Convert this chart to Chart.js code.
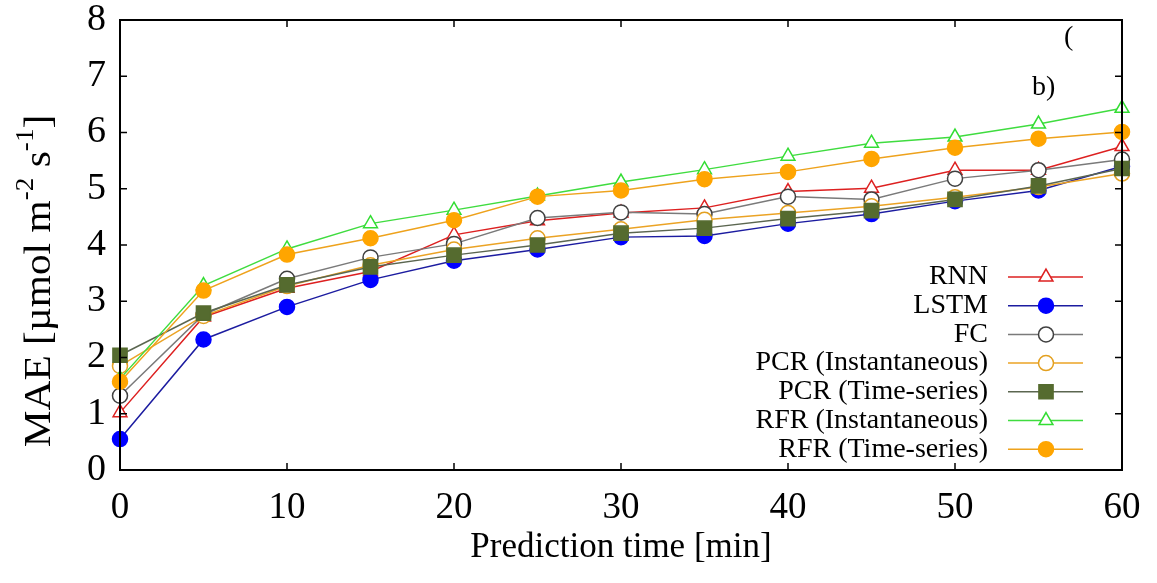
<!DOCTYPE html>
<html lang="en">
<head>
<meta charset="UTF-8">
<title>MAE vs prediction time</title>
<script src="https://cdn.jsdelivr.net/npm/chart.js"></script>
<style>
    html, body { margin: 0; padding: 0; background: #fff; }
    #wrap { width: 1157px; height: 583px; }
</style>
</head>
<body>
<div id="wrap"><canvas id="grafico"></canvas></div>

<script>
    // data
    const times = [0, 5, 10, 15, 20, 25, 30, 35, 40, 45, 50, 55, 60];
    const rnn     = [1.02, 2.72, 3.23, 3.53, 4.18, 4.43, 4.57, 4.66, 4.95, 5.01, 5.33, 5.33, 5.75];
    const lstm    = [0.55, 2.32, 2.90, 3.38, 3.72, 3.92, 4.14, 4.16, 4.38, 4.55, 4.78, 4.97, 5.40];
    const fc      = [1.32, 2.76, 3.40, 3.78, 4.02, 4.48, 4.58, 4.55, 4.86, 4.81, 5.18, 5.33, 5.52];
    const pcrInst = [1.85, 2.74, 3.27, 3.64, 3.92, 4.12, 4.28, 4.45, 4.57, 4.69, 4.85, 5.03, 5.27];
    const pcrTs   = [2.04, 2.79, 3.29, 3.61, 3.82, 4.00, 4.21, 4.30, 4.47, 4.61, 4.81, 5.05, 5.36];
    const rfrInst = [1.62, 3.28, 3.93, 4.38, 4.62, 4.87, 5.12, 5.34, 5.58, 5.81, 5.92, 6.15, 6.43];
    const rfrTs   = [1.57, 3.19, 3.83, 4.12, 4.44, 4.86, 4.97, 5.17, 5.30, 5.53, 5.73, 5.89, 6.01];

    const seriesNames = ['RNN', 'LSTM', 'FC', 'PCR (Instantaneous)', 'PCR (Time-series)', 'RFR (Instantaneous)', 'RFR (Time-series)'];
    const xTicks = [0, 10, 20, 30, 40, 50, 60];
    const yTicks = [0, 1, 2, 3, 4, 5, 6, 7, 8];

    const FONT = "'Liberation Serif', 'Times New Roman', serif";

    function pontos(valores) {
        return times.map((t, i) => ({ x: t, y: valores[i] }));
    }

    const estilos = [
        { line: '#dd2020', stroke: '#dd2020', fill: '#ffffff', style: 'triangle', r: 8 },
        { line: '#1c1ca0', stroke: '#0000ff', fill: '#0000ff', style: 'circle', r: 7.5 },
        { line: '#7a7a7a', stroke: '#404040', fill: '#ffffff', style: 'circle', r: 7.5 },
        { line: '#eba325', stroke: '#e3a020', fill: '#ffffff', style: 'circle', r: 7.5 },
        { line: '#5b6650', stroke: '#556b2f', fill: '#556b2f', style: 'rect', r: 10 },
        { line: '#3fdc3f', stroke: '#33dd33', fill: '#ffffff', style: 'triangle', r: 8 },
        { line: '#eea21c', stroke: '#ffa500', fill: '#ffa500', style: 'circle', r: 7.5 },
    ];

    const valores = [rnn, lstm, fc, pcrInst, pcrTs, rfrInst, rfrTs];

    const datasets = valores.map((v, i) => ({
        label: seriesNames[i],
        data: pontos(v),
        borderColor: estilos[i].line,
        borderWidth: 1.5,
        pointStyle: estilos[i].style,
        pointRadius: estilos[i].r,
        pointBorderColor: estilos[i].stroke,
        pointBackgroundColor: estilos[i].fill,
        pointBorderWidth: 1.5,
        tension: 0,
        clip: false,
        order: 10 - i
    }));

    // inner ticks, frame, legend, y title and panel label
    const extras = {
        id: 'extras',
        afterDatasetsDraw(chart) {
            const ctx = chart.ctx;
            const a = chart.chartArea;
            const xs = chart.scales.x;
            const ys = chart.scales.y;
            ctx.save();
            ctx.strokeStyle = '#000';
            ctx.lineWidth = 1.5;
            ctx.beginPath();
            xTicks.forEach(t => {
                const px = xs.getPixelForValue(t);
                ctx.moveTo(px, a.bottom); ctx.lineTo(px, a.bottom - 7);
                ctx.moveTo(px, a.top); ctx.lineTo(px, a.top + 7);
            });
            yTicks.forEach(t => {
                const py = ys.getPixelForValue(t);
                ctx.moveTo(a.left, py); ctx.lineTo(a.left + 7, py);
                ctx.moveTo(a.right, py); ctx.lineTo(a.right - 7, py);
            });
            ctx.stroke();
            ctx.lineWidth = 2;
            ctx.strokeRect(a.left, a.top, a.right - a.left, a.bottom - a.top);

            // legend
            ctx.font = '28px ' + FONT;
            ctx.textAlign = 'right';
            ctx.textBaseline = 'middle';
            seriesNames.forEach((nome, i) => {
                const y = 277 + i * 28.7;
                ctx.fillStyle = '#000';
                ctx.fillText(nome, 988, y);
                ctx.strokeStyle = estilos[i].line;
                ctx.lineWidth = 1.5;
                ctx.beginPath();
                ctx.moveTo(1008, y); ctx.lineTo(1083, y);
                ctx.stroke();
                ctx.fillStyle = estilos[i].fill;
                ctx.strokeStyle = estilos[i].stroke;
                Chart.helpers.drawPoint(ctx, {
                    pointStyle: estilos[i].style,
                    radius: estilos[i].r,
                    borderWidth: 1.5
                }, 1046, y);
            });

            // panel label
            ctx.fillStyle = '#000';
            ctx.font = '28px ' + FONT;
            ctx.textAlign = 'left';
            ctx.fillText('(', 1064, 38);
            ctx.fillText('b)', 1032, 88);

            // y axis title with superscripts (glyphs stretched along the baseline like the original)
            const partes = [
                { t: 'MAE [\u00b5mol m', sup: false },
                { t: '-2', sup: true },
                { t: ' s', sup: false },
                { t: '-1', sup: true },
                { t: ']', sup: false }
            ];
            const fMain = '38px ' + FONT;
            const fSup = '25px ' + FONT;
            let total = 0;
            partes.forEach(p => {
                ctx.font = p.sup ? fSup : fMain;
                p.w = ctx.measureText(p.t).width;
                total += p.w;
            });
            ctx.translate(40, 281);
            ctx.rotate(-Math.PI / 2);
            ctx.scale(1.09, 1);
            let x = -total / 2;
            partes.forEach(p => {
                ctx.font = p.sup ? fSup : fMain;
                ctx.fillText(p.t, x, p.sup ? -14 : 0);
                x += p.w;
            });
            ctx.restore();
        }
    };

    const config = {
        type: 'line',
        data: { datasets: datasets },
        options: {
            responsive: true,
            maintainAspectRatio: false,
            animation: false,
            layout: { padding: { top: 20, right: 35, left: 0, bottom: 0 } },
            plugins: {
                legend: { display: false },
                tooltip: { enabled: false }
            },
            scales: {
                x: {
                    type: 'linear',
                    min: 0,
                    max: 60,
                    afterFit(scale) {
                        scale.height = 113;
                        scale.paddingLeft = 0;
                        scale.paddingRight = 0;
                    },
                    afterBuildTicks(scale) { scale.ticks = xTicks.map(v => ({ value: v })); },
                    grid: { display: false, drawTicks: false },
                    border: { display: false },
                    ticks: {
                        padding: 16,
                        color: '#000',
                        font: { family: FONT, size: 37 }
                    },
                    title: {
                        display: true,
                        text: 'Prediction time [min]',
                        color: '#000',
                        font: { family: FONT, size: 35 },
                        padding: { top: 0, bottom: 14 }
                    }
                },
                y: {
                    min: 0,
                    max: 8,
                    afterFit(scale) {
                        scale.width = 120;
                        scale.paddingTop = 0;
                        scale.paddingBottom = 0;
                    },
                    afterBuildTicks(scale) { scale.ticks = yTicks.map(v => ({ value: v })); },
                    grid: { display: false, drawTicks: false },
                    border: { display: false },
                    ticks: {
                        padding: 14,
                        color: '#000',
                        font: { family: FONT, size: 38 }
                    }
                }
            }
        },
        plugins: [extras]
    };

    new Chart(document.getElementById('grafico'), config);
</script>
</body>
</html>
